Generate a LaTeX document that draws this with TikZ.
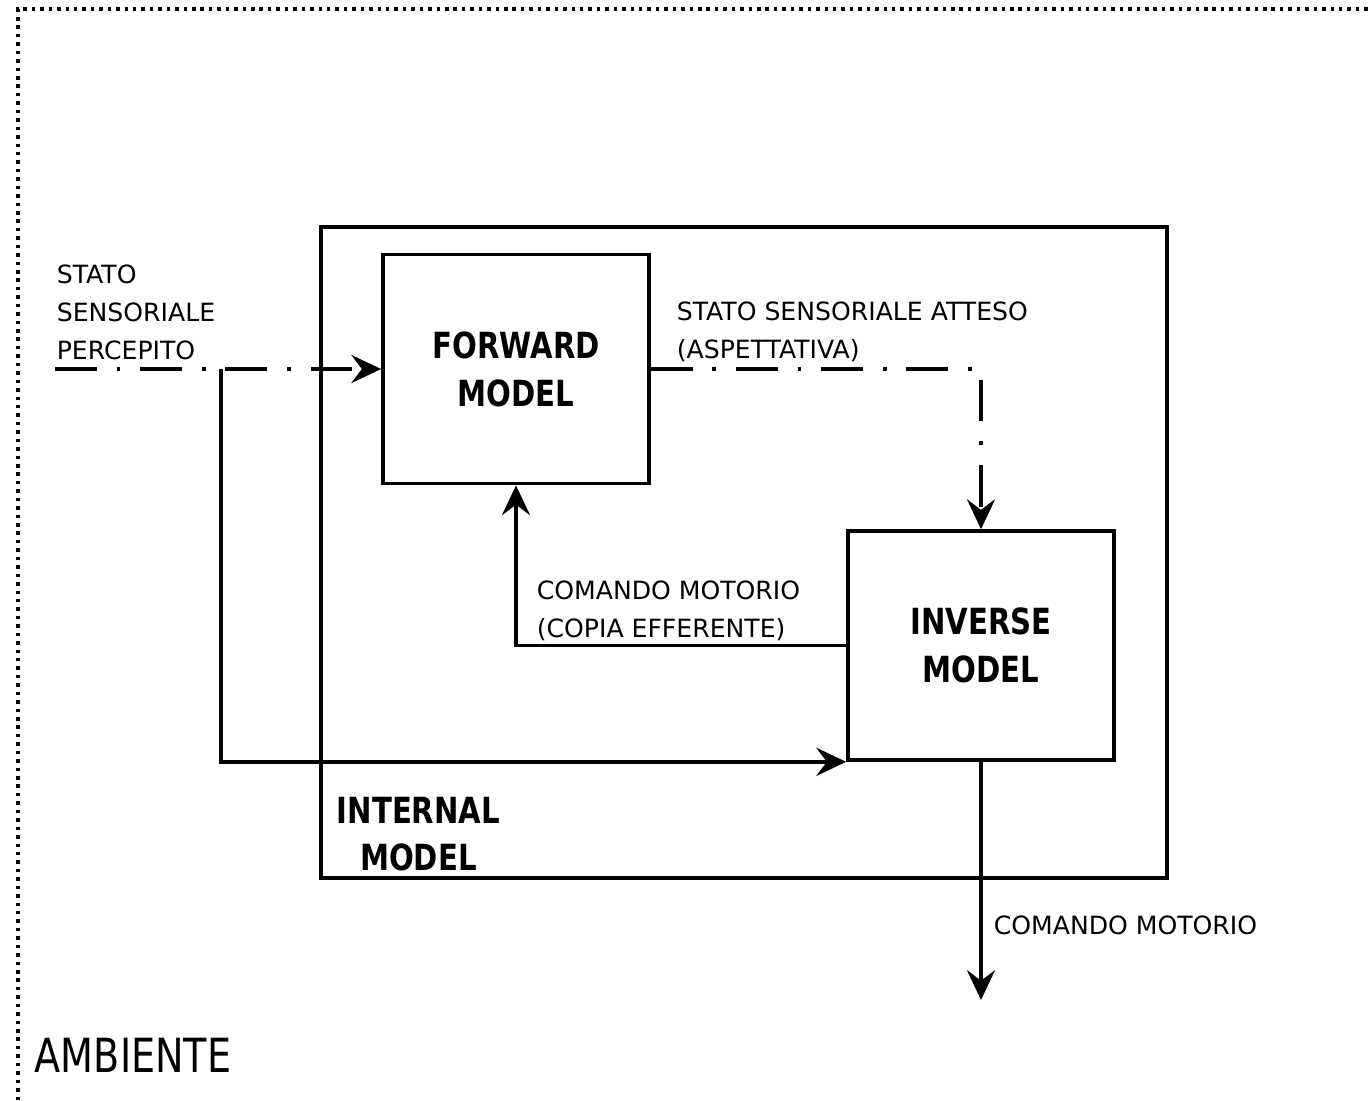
\documentclass[tikz,border=0pt]{standalone}
\usepackage{fontspec}
\setmainfont{DejaVu Sans}
\newfontfamily\narrowfont[FakeStretch=0.81]{DejaVu Sans}
\usetikzlibrary{arrows.meta}

\begin{document}
\begin{tikzpicture}[x=0.02cm, y=-0.02cm, line width=2.1pt,
  box/.style={draw, rectangle, inner sep=0pt, minimum width=5.32cm, minimum height=4.58cm, align=center, font=\narrowfont\bfseries\fontsize{20.5}{27.2}\selectfont},
  lbl/.style={anchor=north west, inner sep=0pt, align=left, font=\fontsize{14.3}{21.5}\selectfont},
  flow/.style={-{Stealth[length=17pt, width=16pt, inset=6pt]}},
  expect/.style={flow, dash pattern=on 23.8pt off 11.3pt on 2.1pt off 11.3pt},
  ambient/.style={dash pattern=on 2pt off 2.8pt}]
\useasboundingbox (0,0) rectangle (1372,1100);
\draw[ambient] (18,1100) -- (18,9) -- (1372,9);
\node[anchor=base west, inner sep=0pt, font=\narrowfont\fontsize{26.8}{30}\selectfont] (ambiente) at (33,1072) {AMBIENTE};
\node[box, minimum width=16.92cm, minimum height=13.02cm] (internal) at (744,552.5) {};
\node[anchor=north west, inner sep=0pt, align=center, font=\narrowfont\bfseries\fontsize{20.5}{27.2}\selectfont] (internallbl) at (335,795) {INTERNAL\\MODEL};
\node[box] (forward) at (516,369) {FORWARD\\MODEL};
\node[box] (inverse) at (981,645.5) {INVERSE\\MODEL};
\coordinate (src) at (55,369);
\coordinate (split) at (221,369);
\coordinate (act) at (981,1000);
\draw[expect] (src) -- (forward.west);
\draw[flow] (split) |- (inverse.south west);
\draw[expect] (forward.east) -| (inverse.north);
\draw[flow] (inverse.west) -| (forward.south);
\draw[flow] (inverse.south) -- (act);
\node[lbl] (perceived) at (55,263) {STATO\\SENSORIALE\\PERCEPITO};
\node[lbl] (expected) at (675,300) {STATO SENSORIALE ATTESO\\(ASPETTATIVA)};
\node[lbl] (copy) at (535,579) {COMANDO MOTORIO\\(COPIA EFFERENTE)};
\node[lbl] (command) at (992,914) {COMANDO MOTORIO};
\end{tikzpicture}
\end{document}
